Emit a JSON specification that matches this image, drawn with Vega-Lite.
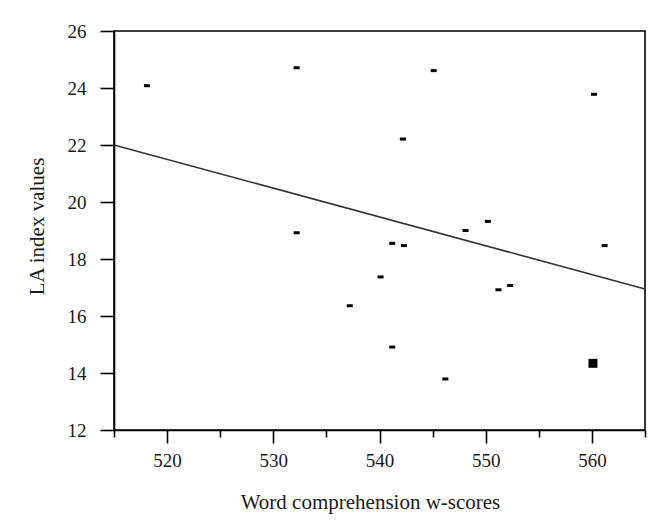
{
  "$schema": "https://vega.github.io/schema/vega-lite/v6.json",
  "width": 531,
  "height": 399,
  "autosize": "none",
  "padding": {"left": 114, "top": 31, "right": 20, "bottom": 101},
  "background": "white",
  "config": {
    "view": {"stroke": "#000", "strokeWidth": 1.6},
    "axis": {
      "domainColor": "#000",
      "domainWidth": 1.6,
      "tickColor": "#000",
      "tickWidth": 1.6,
      "grid": false,
      "labelFont": "Liberation Serif",
      "labelFontSize": 19,
      "labelColor": "#1a1a1a",
      "titleFont": "Liberation Serif",
      "titleFontSize": 21,
      "titleFontWeight": "normal",
      "titleColor": "#1a1a1a"
    }
  },
  "datasets": {
    "pts": [
      {"w": 518.1, "la": 24.08, "n": 1},
      {"w": 532.2, "la": 24.71, "n": 1},
      {"w": 532.2, "la": 18.92, "n": 1},
      {"w": 541.2, "la": 18.55, "n": 1},
      {"w": 542.3, "la": 18.47, "n": 1},
      {"w": 550.2, "la": 19.32, "n": 1},
      {"w": 548.1, "la": 19.0, "n": 1},
      {"w": 561.2, "la": 18.47, "n": 1},
      {"w": 540.1, "la": 17.37, "n": 1},
      {"w": 551.2, "la": 16.92, "n": 1},
      {"w": 552.3, "la": 17.07, "n": 1},
      {"w": 537.2, "la": 16.36, "n": 1},
      {"w": 541.2, "la": 14.91, "n": 1},
      {"w": 546.2, "la": 13.79, "n": 1},
      {"w": 560.1, "la": 14.34, "n": 2},
      {"w": 560.2, "la": 23.78, "n": 1},
      {"w": 545.1, "la": 24.61, "n": 1},
      {"w": 542.2, "la": 22.21, "n": 1}
    ],
    "fit": [
      {"w": 515, "la": 22.0},
      {"w": 565, "la": 16.95}
    ]
  },
  "layer": [
    {
      "data": {"name": "pts"},
      "transform": [{"filter": "datum.n == 1"}],
      "mark": {"type": "point", "shape": "M-1,-0.5H1V0.5H-1Z", "filled": true, "color": "#000", "size": 36, "opacity": 1},
      "encoding": {
        "x": {
          "field": "w", "type": "quantitative",
          "scale": {"domain": [515, 565], "nice": false, "zero": false},
          "axis": {
            "orient": "bottom",
            "values": [520, 530, 540, 550, 560],
            "tickSize": 13,
            "labelPadding": 8,
            "labelDx": -8,
            "title": "Word comprehension w-scores",
            "titlePadding": 21,
            "titleX": 256
          }
        },
        "y": {
          "field": "la", "type": "quantitative",
          "scale": {"domain": [12, 26], "nice": false, "zero": false},
          "axis": {
            "values": [12, 14, 16, 18, 20, 22, 24, 26],
            "tickSize": 14,
            "labelPadding": 14,
            "title": "LA index values",
            "titlePadding": 20,
            "titleY": 195
          }
        }
      }
    },
    {
      "data": {"name": "pts"},
      "transform": [{"filter": "datum.n > 1"}],
      "mark": {"type": "point", "shape": "square", "filled": true, "color": "#000", "size": 80, "opacity": 1},
      "encoding": {
        "x": {"field": "w", "type": "quantitative", "axis": null},
        "y": {"field": "la", "type": "quantitative"}
      }
    },
    {
      "data": {"name": "fit"},
      "mark": {"type": "line", "color": "#333", "strokeWidth": 1.6},
      "encoding": {
        "x": {
          "field": "w", "type": "quantitative",
          "axis": {
            "orient": "bottom",
            "values": [515, 525, 535, 545, 555, 565],
            "tickSize": 7,
            "labels": false,
            "domain": false,
            "title": null
          }
        },
        "y": {"field": "la", "type": "quantitative"}
      }
    }
  ],
  "resolve": {"axis": {"x": "independent"}}
}
